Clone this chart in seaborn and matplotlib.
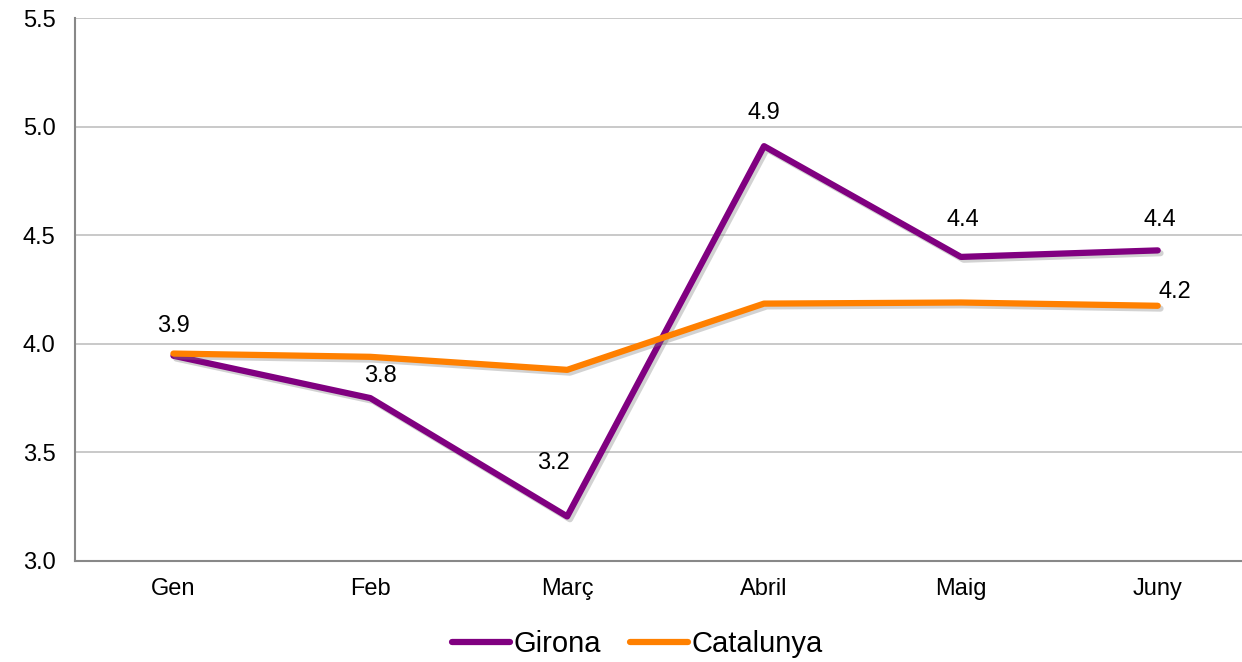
import pandas as pd
import seaborn as sns
import matplotlib.pyplot as plt
import matplotlib.patheffects as pe
from matplotlib.lines import Line2D

# monthly values
months = ["Gen", "Feb", "Març", "Abril", "Maig", "Juny"]
girona = [3.945, 3.75, 3.205, 4.91, 4.40, 4.43]
catalunya = [3.955, 3.94, 3.88, 4.185, 4.19, 4.175]

df = pd.DataFrame({
    "pos": list(range(len(months))) * 2,
    "valor": girona + catalunya,
    "serie": ["Girona"] * len(months) + ["Catalunya"] * len(months),
})

sns.set_theme(style="white")
plt.rcParams["font.family"] = ["Liberation Sans", "DejaVu Sans"]
plt.rcParams["text.color"] = "black"

fig = plt.figure(figsize=(12.42, 6.62), dpi=100)
ax = fig.add_axes([0.0604, 0.1526, 0.951, 0.8202])

palette = {"Girona": "#800080", "Catalunya": "#FF8000"}
sns.lineplot(data=df, x="pos", y="valor", hue="serie", palette=palette,
             linewidth=4.5, sort=False, ax=ax, legend=False)

for line in ax.get_lines():
    line.set_solid_capstyle("round")
    line.set_path_effects([pe.SimpleLineShadow(offset=(2, -2), shadow_color="gray", alpha=0.35),
                           pe.Normal()])

ax.set_xlim(-0.5, len(months) - 0.5)
ax.set_ylim(3.0, 5.5)
yt = [3.0, 3.5, 4.0, 4.5, 5.0, 5.5]
ax.set_yticks(yt)
ax.set_yticklabels([f"{v:.1f}" for v in yt], fontsize=17)
ax.yaxis.grid(True, color="#c0c0c0", linewidth=1.2)

ax.set_xticks([i - 0.5 for i in range(len(months) + 1)])
ax.set_xticklabels([])
ax.set_xticks(range(len(months)), minor=True)
ax.set_xticklabels(months, minor=True, fontsize=17)
ax.tick_params(axis="x", which="minor", length=0, pad=12)
ax.tick_params(axis="x", which="major", length=6, width=1.2, color="#888888", direction="out")
ax.tick_params(axis="y", length=6, width=1.2, color="#888888", direction="out", pad=8)
ax.tick_params(axis="both", which="both", labelcolor="black")

for side in ["top", "right"]:
    ax.spines[side].set_visible(False)
for side in ["left", "bottom"]:
    ax.spines[side].set_color("#888888")
    ax.spines[side].set_linewidth(1.5)
ax.set_xlabel("")
ax.set_ylabel("")

# data labels (rounded to one decimal as on the chart)
labels = [
    (0, girona[0], (0, 30)),
    (1, girona[1], (10, 22)),
    (2, girona[2], (-14, 53)),
    (3, girona[3], (0, 33)),
    (4, girona[4], (2, 37)),
    (5, girona[5], (2, 30)),
    (5, catalunya[5], (17, 14)),
]
for x, v, off in labels:
    ax.annotate(f"{v:.1f}", xy=(x, v), xytext=off, textcoords="offset pixels",
                ha="center", va="center", fontsize=17, color="black")

handles = [Line2D([0], [0], color=palette[k], linewidth=4.5, solid_capstyle="round")
           for k in ["Girona", "Catalunya"]]
fig.legend(handles, ["Girona", "Catalunya"], loc="center", bbox_to_anchor=(0.513, 0.027),
           ncol=2, frameon=False, fontsize=21, handlelength=2.0, handletextpad=0.1,
           columnspacing=1.0)

fig.savefig("out.png", dpi=100)
